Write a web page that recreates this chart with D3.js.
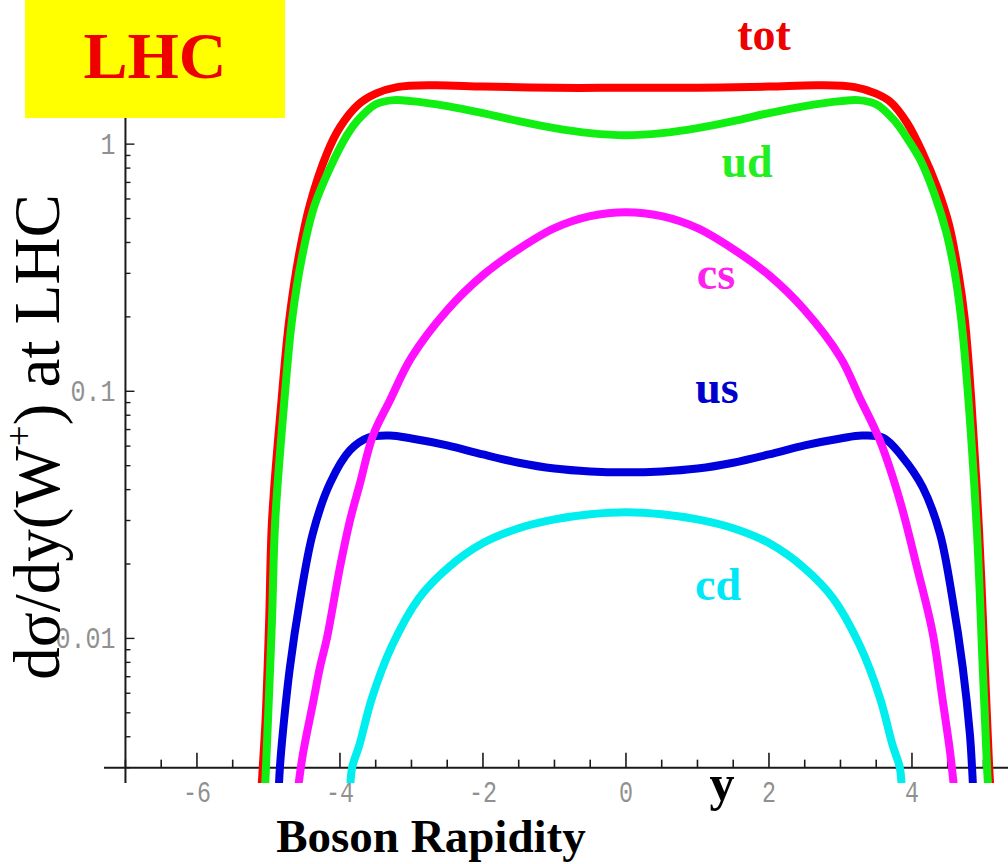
<!DOCTYPE html>
<html>
<head>
<meta charset="utf-8">
<script src="https://cdn.jsdelivr.net/npm/d3@7"></script>
<style>
  html, body { margin: 0; padding: 0; background: #ffffff; }
  svg { display: block; }
</style>
</head>
<body>
<svg id="chart" width="1008" height="864"></svg>
<script>
// W+ rapidity distribution at the LHC, split by quark flavour channel.
// Each series: [boson rapidity y, dsigma/dy]
const tot = [
  [-5.10, 0.0024], [-5.08, 0.003], [-5.04, 0.0047], [-4.99, 0.0118], [-4.95, 0.030],
  [-4.82, 0.09], [-4.71, 0.194], [-4.57, 0.36], [-4.42, 0.57], [-4.18, 0.92],
  [-4.00, 1.17], [-3.75, 1.44], [-3.50, 1.60], [-3.20, 1.70], [-2.70, 1.73],
  [-2.00, 1.71], [-1.00, 1.69], [0.00, 1.69], [1.00, 1.69], [2.00, 1.71],
  [2.70, 1.73], [3.20, 1.70], [3.50, 1.60], [3.70, 1.48], [3.93, 1.22],
  [4.15, 0.92], [4.35, 0.67], [4.52, 0.47], [4.65, 0.30], [4.74, 0.194],
  [4.83, 0.092], [4.94, 0.0266], [5.02, 0.0076], [5.08, 0.003], [5.10, 0.0024]
];
const ud = [
  [-5.05, 0.0024], [-5.035, 0.003], [-5.007, 0.00466], [-4.951, 0.0118], [-4.905, 0.030],
  [-4.78, 0.09], [-4.671, 0.194], [-4.53, 0.35], [-4.36, 0.56], [-4.14, 0.80],
  [-3.90, 1.09], [-3.75, 1.25], [-3.50, 1.45], [-3.25, 1.507], [-3.00, 1.493],
  [-2.50, 1.425], [-2.00, 1.335], [-1.50, 1.239], [-1.00, 1.161], [-0.50, 1.108],
  [0.00, 1.087], [0.50, 1.108], [1.00, 1.161], [1.50, 1.239], [2.00, 1.335],
  [2.50, 1.425], [3.00, 1.493], [3.25, 1.507], [3.50, 1.45], [3.75, 1.25],
  [3.92, 1.07], [4.12, 0.86], [4.32, 0.62], [4.48, 0.44], [4.60, 0.30],
  [4.69, 0.194], [4.79, 0.092], [4.91, 0.0266], [4.99, 0.0076], [5.05, 0.003], [5.07, 0.0024]
];
const cs = [
  [-4.60, 0.0023], [-4.517, 0.00342], [-4.378, 0.00546], [-4.28, 0.00763], [-4.18, 0.0101],
  [-4.00, 0.0194], [-3.86, 0.030], [-3.72, 0.0424], [-3.54, 0.0660], [-3.30, 0.092],
  [-3.00, 0.137], [-2.50, 0.213], [-2.00, 0.295], [-1.50, 0.376], [-1.00, 0.457],
  [-0.50, 0.511], [0.00, 0.530], [0.50, 0.511], [1.00, 0.457], [1.50, 0.376],
  [2.00, 0.295], [2.50, 0.213], [3.00, 0.137], [3.27, 0.094], [3.55, 0.0633],
  [3.83, 0.0362], [4.07, 0.0194], [4.29, 0.0105], [4.43, 0.0056], [4.53, 0.00352],
  [4.60, 0.0023]
];
const us = [
  [-4.86, 0.0023], [-4.84, 0.003], [-4.80, 0.00412], [-4.70, 0.00763], [-4.56, 0.01426],
  [-4.38, 0.0266], [-4.14, 0.0424], [-3.86, 0.0577], [-3.60, 0.0650], [-3.30, 0.0662],
  [-3.00, 0.0644], [-2.50, 0.0604], [-2.00, 0.0555], [-1.50, 0.0514], [-1.00, 0.0487],
  [-0.50, 0.0474], [0.00, 0.0470], [0.50, 0.0474], [1.00, 0.0487], [1.50, 0.0514],
  [2.00, 0.0555], [2.50, 0.0604], [3.00, 0.0644], [3.30, 0.0662], [3.60, 0.0648],
  [3.86, 0.0545], [4.15, 0.0409], [4.39, 0.0266], [4.57, 0.01426], [4.71, 0.00763],
  [4.81, 0.0041], [4.84, 0.003], [4.86, 0.0023]
];
const cd = [
  [-3.86, 0.0023], [-3.83, 0.003], [-3.73, 0.00369], [-3.55, 0.00577], [-3.27, 0.00937],
  [-2.90, 0.0145], [-2.50, 0.0192], [-2.00, 0.0243], [-1.50, 0.0279], [-1.00, 0.0303],
  [-0.50, 0.0318], [0.00, 0.0324], [0.50, 0.0318], [1.00, 0.0303], [1.50, 0.0279],
  [2.00, 0.0243], [2.50, 0.0192], [2.90, 0.0145], [3.27, 0.00937], [3.55, 0.00577],
  [3.73, 0.00369], [3.83, 0.003], [3.86, 0.0023]
];

const seriesNames = ["tot", "ud", "us", "cs", "cd"];
const xLabelValues = [-6, -4, -2, 0, 2, 4];
const yLabelValues = [1, 0.1, 0.01];
const yLabelText = ["1", "0.1", "0.01"];

// ---- layout ----
const width = 1008, height = 864;
const svg = d3.select("#chart");

const xScale = d3.scaleLinear().domain([-7.3, 5.35]).range([104, 1008.5]);
const yScale = d3.scaleLog().domain([0.0026, 3.83]).range([783, 0]);
const axisValue = 0.003;      // where the horizontal axis crosses
const axisY = yScale(axisValue);
const axisX = xScale(-7);

const style = {
  tot: { stroke: "#ff0000", text: "#ee0000", lx: 764, ly: 50 },
  ud:  { stroke: "#11ee11", text: "#22ee22", lx: 747, ly: 177 },
  us:  { stroke: "#0000dd", text: "#0000cc", lx: 717, ly: 403 },
  cs:  { stroke: "#ff11ff", text: "#ff22ee", lx: 716, ly: 289 },
  cd:  { stroke: "#00eeee", text: "#00e8f8", lx: 718, ly: 600 }
};
const seriesData = { tot, ud, us, cs, cd };

// clip region for the curves
svg.append("defs").append("clipPath").attr("id", "plotClip")
  .append("rect").attr("x", axisX).attr("y", 0)
  .attr("width", width - axisX).attr("height", yScale.range()[0]);

// ---- axes ----
const axes = svg.append("g").attr("stroke", "#1a1a1a").attr("fill", "none");

// horizontal axis line and ticks
axes.append("line")
  .attr("x1", 104).attr("x2", width).attr("y1", axisY).attr("y2", axisY)
  .attr("stroke-width", 2);
const xTicks = d3.range(-14, 11).map(k => k / 2);
axes.selectAll(".xt").data(xTicks).join("line")
  .attr("x1", d => xScale(d)).attr("x2", d => xScale(d))
  .attr("y1", axisY)
  .attr("y2", d => axisY - (xLabelValues.includes(d) ? 15 : 8))
  .attr("stroke-width", 1.6);

// vertical axis line and ticks
axes.append("line")
  .attr("x1", axisX).attr("x2", axisX).attr("y1", 0).attr("y2", 783)
  .attr("stroke-width", 2);
const yTicks = [];
[0.001, 0.01, 0.1, 1].forEach(dec => {
  for (let k = 1; k <= 9; k++) {
    const v = k * dec;
    if (v >= axisValue && v <= 3.5) yTicks.push({ v, major: k === 1 });
  }
});
axes.selectAll(".yt").data(yTicks).join("line")
  .attr("x1", axisX).attr("x2", d => axisX + (d.major ? 9 : 5))
  .attr("y1", d => yScale(d.v)).attr("y2", d => yScale(d.v))
  .attr("stroke-width", 1.4);

// tick labels: tall, narrow monospace digits
const tickFont = "'Liberation Mono', 'DejaVu Sans Mono', monospace";
svg.selectAll(".xl").data(xLabelValues).join("text")
  .attr("x", d => xScale(d)).attr("y", 802)
  .attr("text-anchor", "middle")
  .attr("font-family", tickFont).attr("font-size", 29)
  .attr("textLength", d => String(d).length * 14)
  .attr("lengthAdjust", "spacingAndGlyphs")
  .attr("fill", "#909090")
  .text(d => String(d));
svg.selectAll(".yl").data(yLabelValues).join("text")
  .attr("x", axisX - 10).attr("y", d => yScale(d) + 10)
  .attr("text-anchor", "end")
  .attr("font-family", tickFont).attr("font-size", 29)
  .attr("textLength", (d, i) => yLabelText[i].length * 15)
  .attr("lengthAdjust", "spacingAndGlyphs")
  .attr("fill", "#909090")
  .text((d, i) => yLabelText[i]);

// ---- curves ----
const line = d3.line()
  .x(d => xScale(d[0]))
  .y(d => yScale(d[1]))
  .curve(d3.curveCatmullRom.alpha(0.5));

const curves = svg.append("g").attr("clip-path", "url(#plotClip)");
["tot", "ud", "us", "cs", "cd"].forEach(name => {
  curves.append("path")
    .attr("d", line(seriesData[name]))
    .attr("fill", "none")
    .attr("stroke", style[name].stroke)
    .attr("stroke-width", 8)
    .attr("stroke-linejoin", "round");
});

// ---- series labels ----
const serifBold = "'Liberation Serif', 'Times New Roman', serif";
seriesNames.forEach(name => {
  svg.append("text")
    .attr("x", style[name].lx).attr("y", style[name].ly)
    .attr("text-anchor", "middle")
    .attr("font-family", serifBold).attr("font-weight", "bold")
    .attr("font-size", 46)
    .attr("fill", style[name].text)
    .text(name);
});

// ---- header box ----
svg.append("rect").attr("x", 25).attr("y", 0).attr("width", 260).attr("height", 118)
  .attr("fill", "#ffff00");
svg.append("text").attr("x", 155).attr("y", 78)
  .attr("text-anchor", "middle")
  .attr("font-family", serifBold).attr("font-weight", "bold")
  .attr("font-size", 66).attr("fill", "#ee0000")
  .text("LHC");

// ---- axis titles ----
const yTitle = svg.append("text")
  .attr("transform", "translate(59,437) rotate(-90)")
  .attr("text-anchor", "middle")
  .attr("font-family", serifBold).attr("font-size", 65)
  .attr("fill", "#000");
yTitle.append("tspan").text("dσ/dy(W");
yTitle.append("tspan").attr("font-size", 37).attr("dy", -27).text("+");
yTitle.append("tspan").attr("dy", 27).text(") at LHC");

svg.append("text").attr("x", 431).attr("y", 852)
  .attr("text-anchor", "middle")
  .attr("font-family", serifBold).attr("font-weight", "bold")
  .attr("font-size", 47).attr("fill", "#000")
  .text("Boson Rapidity");

svg.append("text").attr("x", 722).attr("y", 800)
  .attr("text-anchor", "middle")
  .attr("font-family", serifBold).attr("font-weight", "bold")
  .attr("font-size", 50).attr("fill", "#000")
  .text("y");
</script>
</body>
</html>
